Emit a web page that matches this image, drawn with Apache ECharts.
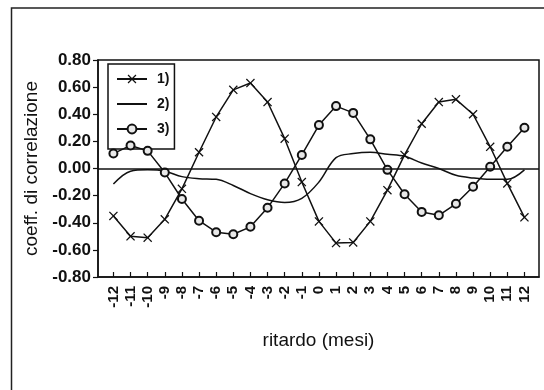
<!DOCTYPE html>
<html>
<head>
<meta charset="utf-8">
<script src="https://cdn.jsdelivr.net/npm/echarts@6/dist/echarts.min.js"></script>
<style>
  html, body { margin: 0; padding: 0; background: #fff; }
  #chart { width: 544px; height: 390px; }
</style>
</head>
<body>
<div id="chart"></div>
<script>
// Lag in months (x axis)
const lags = [-12, -11, -10, -9, -8, -7, -6, -5, -4, -3, -2, -1, 0, 1, 2, 3, 4, 5, 6, 7, 8, 9, 10, 11, 12];

// Correlation coefficients for each lag
const serie1 = [-0.35, -0.50, -0.51, -0.375, -0.15, 0.12, 0.38, 0.58, 0.63, 0.49, 0.22, -0.10, -0.39,
                -0.55, -0.545, -0.39, -0.16, 0.10, 0.33, 0.49, 0.51, 0.40, 0.16, -0.11, -0.36];
const serie2 = [-0.115, -0.02, -0.01, -0.02, -0.06, -0.075, -0.08, -0.125, -0.185, -0.23, -0.25, -0.22, -0.10,
                0.08, 0.11, 0.12, 0.105, 0.09, 0.04, 0.0, -0.05, -0.07, -0.08, -0.08, -0.01];
const serie3 = [0.11, 0.17, 0.13, -0.03, -0.225, -0.385, -0.47, -0.485, -0.43, -0.29, -0.11, 0.10, 0.32,
                0.46, 0.41, 0.215, -0.01, -0.19, -0.32, -0.345, -0.26, -0.135, 0.013, 0.16, 0.30];

const seriesNames = ['1)', '2)', '3)'];
const yTicks = [-0.8, -0.6, -0.4, -0.2, 0, 0.2, 0.4, 0.6, 0.8];

const pairs = vals => lags.map((l, i) => [l, vals[i]]);

const crossSymbol = 'path://M0,1L1,0L5,4L9,0L10,1L6,5L10,9L9,10L5,6L1,10L0,9L4,5Z';
const ink = '#111';

const chart = echarts.init(document.getElementById('chart'), null, { renderer: 'canvas' });

chart.setOption({
  backgroundColor: '#fff',
  animation: false,
  textStyle: { fontFamily: 'Liberation Sans, Arial, sans-serif', color: ink },
  grid: {
    left: 98, right: 5, top: 60, bottom: 113,
    show: true, borderColor: ink, borderWidth: 1.5
  },
  legend: {
    orient: 'vertical',
    left: 108, top: 64,
    padding: [8, 5, 13, 8],
    itemWidth: 30, itemHeight: 11, itemGap: 11,
    borderColor: ink, borderWidth: 1.5,
    backgroundColor: '#fff',
    data: [
      { name: seriesNames[0] },
      { name: seriesNames[1], itemStyle: { opacity: 0 } },
      { name: seriesNames[2] }
    ],
    textStyle: { fontSize: 14, fontWeight: 'bold', color: ink, padding: [0, 0, 0, 5] }
  },
  xAxis: {
    type: 'value',
    min: -12.9, max: 12.85,
    name: 'ritardo (mesi)',
    nameLocation: 'middle',
    nameGap: 54,
    nameTextStyle: { fontSize: 19, color: ink },
    axisLine: { show: true, onZero: false, lineStyle: { color: ink, width: 1.5 } },
    axisTick: { show: true, inside: true, length: 5, customValues: lags, lineStyle: { color: ink, width: 1.2 } },
    axisLabel: {
      customValues: lags,
      rotate: 90,
      margin: 9,
      fontSize: 15,
      fontWeight: 'bold',
      color: ink,
      formatter: v => String(v)
    },
    splitLine: { show: false }
  },
  yAxis: {
    type: 'value',
    min: yTicks[0], max: yTicks[yTicks.length - 1], interval: 0.2,
    name: 'coeff. di correlazione',
    nameLocation: 'middle',
    nameRotate: 90,
    nameGap: 51,
    nameTextStyle: { fontSize: 19, color: ink },
    axisLine: { show: true, onZero: false, lineStyle: { color: ink, width: 1.5 } },
    axisTick: { show: true, length: 5, lineStyle: { color: ink, width: 1.2 } },
    axisLabel: {
      margin: 7,
      fontSize: 17,
      fontWeight: 'bold',
      color: ink,
      formatter: v => v.toFixed(2)
    },
    splitLine: { show: false }
  },
  series: [
    {
      name: seriesNames[0],
      type: 'line',
      data: pairs(serie1),
      symbol: crossSymbol,
      symbolSize: 9,
      showAllSymbol: true,
      lineStyle: { color: ink, width: 1.5 },
      itemStyle: { color: ink },
      z: 3,
      markLine: {
        silent: true,
        symbol: 'none',
        label: { show: false },
        lineStyle: { color: ink, width: 1.5, type: 'solid' },
        data: [{ yAxis: 0 }]
      }
    },
    {
      name: seriesNames[1],
      type: 'line',
      data: pairs(serie2),
      symbol: 'none',
      smooth: 0.35,
      lineStyle: { color: ink, width: 1.5 },
      itemStyle: { color: ink },
      z: 2
    },
    {
      name: seriesNames[2],
      type: 'line',
      data: pairs(serie3),
      symbol: 'circle',
      symbolSize: 8,
      showAllSymbol: true,
      lineStyle: { color: ink, width: 1.5 },
      itemStyle: { color: '#e8e8e8', borderColor: ink, borderWidth: 2 },
      z: 4
    }
  ],
  graphic: [
    {
      type: 'polyline',
      silent: true,
      shape: { points: [[11.5, 390], [11.5, 8], [544, 8]] },
      style: { stroke: '#222', lineWidth: 1.5, fill: null }
    }
  ]
});
</script>
</body>
</html>
